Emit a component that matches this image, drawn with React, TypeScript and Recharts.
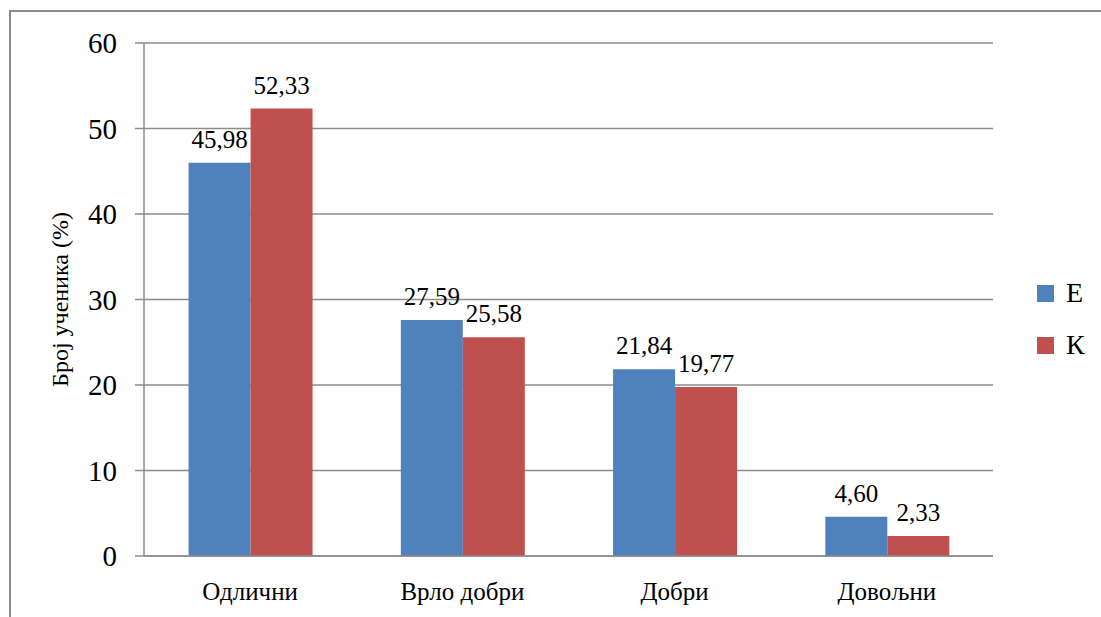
import { BarChart, Bar, XAxis, YAxis, CartesianGrid, LabelList } from "recharts";

const categories = ["Одлични", "Врло добри", "Добри", "Довољни"];
const seriesE = [45.98, 27.59, 21.84, 4.6];
const seriesK = [52.33, 25.58, 19.77, 2.33];
const yTicks = [0, 10, 20, 30, 40, 50, 60];

const legendItems = [
  { name: "Е", color: "#4F81BD" },
  { name: "К", color: "#C0504D" },
];

const data = categories.map((name, i) => ({ name, E: seriesE[i], K: seriesK[i] }));

const fmt = (v: any) => Number(v).toFixed(2).replace(".", ",");

const font = "Liberation Serif";

// value label above each bar
const ValueLabel = (props: any) => {
  const { x, y, width, value } = props;
  return (
    <text
      x={Number(x) + Number(width) / 2}
      y={Number(y) - 15}
      textAnchor="middle"
      fill="#000"
      fontSize={25}
      style={{ fontFamily: font }}
    >
      {fmt(value)}
    </text>
  );
};

const CategoryTick = (props: any) => {
  const { x, y, payload } = props;
  return (
    <text x={x} y={Number(y) + 24} textAnchor="middle" dominantBaseline="hanging" fill="#000" fontSize={25} style={{ fontFamily: font }}>
      {payload.value}
    </text>
  );
};

export default function App() {
  return (
    <div style={{ position: "absolute", left: 0, top: 0, width: 1101, height: 617, background: "#fff", overflow: "hidden", fontFamily: font }}>
      {/* outer frame, only top and left edges fall inside the view */}
      <div
        style={{
          position: "absolute",
          left: 9,
          top: 10,
          width: 1200,
          height: 700,
          borderTop: "2px solid #8c8c8c",
          borderLeft: "2px solid #8c8c8c",
        }}
      />
      <div style={{ position: "absolute", left: 0, top: 0, fontFamily: font }}>
        <BarChart
          width={1101}
          height={617}
          data={data}
          margin={{ top: 43, right: 108, bottom: 31, left: 64 }}
          barGap={0}
          barCategoryGap="21%"
          style={{ fontFamily: font }}
        >
          <CartesianGrid vertical={false} stroke="#8c8c8c" strokeWidth={1.5} />
          <YAxis
            width={80}
            domain={[0, 60]}
            ticks={yTicks}
            interval={0}
            tickSize={9}
            tickMargin={18}
            axisLine={{ stroke: "#8c8c8c", strokeWidth: 1.5 }}
            tickLine={{ stroke: "#8c8c8c", strokeWidth: 1.5 }}
            tick={{ fill: "#000", fontSize: 29, fontFamily: font, style: { fontFamily: font } }}
            label={({ viewBox }: any) => {
              const cx = 60;
              const cy = viewBox ? viewBox.y + viewBox.height / 2 : 300;
              return (
                <text
                  x={cx}
                  y={cy}
                  transform={`rotate(-90 ${cx} ${cy})`}
                  textAnchor="middle"
                  dominantBaseline="central"
                  fill="#000"
                  fontSize={24}
                  style={{ fontFamily: font }}
                >
                  Број ученика (%)
                </text>
              );
            }}
          />
          <XAxis
            dataKey="name"
            tickLine={false}
            tickSize={0}
            axisLine={{ stroke: "#8c8c8c", strokeWidth: 1.5 }}
            tick={<CategoryTick />}
          />
          <Bar dataKey="E" fill="#4F81BD" isAnimationActive={false}>
            <LabelList dataKey="E" content={<ValueLabel />} />
          </Bar>
          <Bar dataKey="K" fill="#C0504D" isAnimationActive={false}>
            <LabelList dataKey="K" content={<ValueLabel />} />
          </Bar>
        </BarChart>
      </div>
      {/* legend */}
      {legendItems.map((it, i) => (
        <div
          key={it.name}
          style={{
            position: "absolute",
            left: 1037,
            top: 278 + i * 52,
            height: 30,
            display: "flex",
            alignItems: "center",
            fontSize: 28,
            color: "#000",
          }}
        >
          <span style={{ display: "inline-block", width: 17, height: 17, background: it.color, marginRight: 12 }} />
          <span>{it.name}</span>
        </div>
      ))}
    </div>
  );
}
